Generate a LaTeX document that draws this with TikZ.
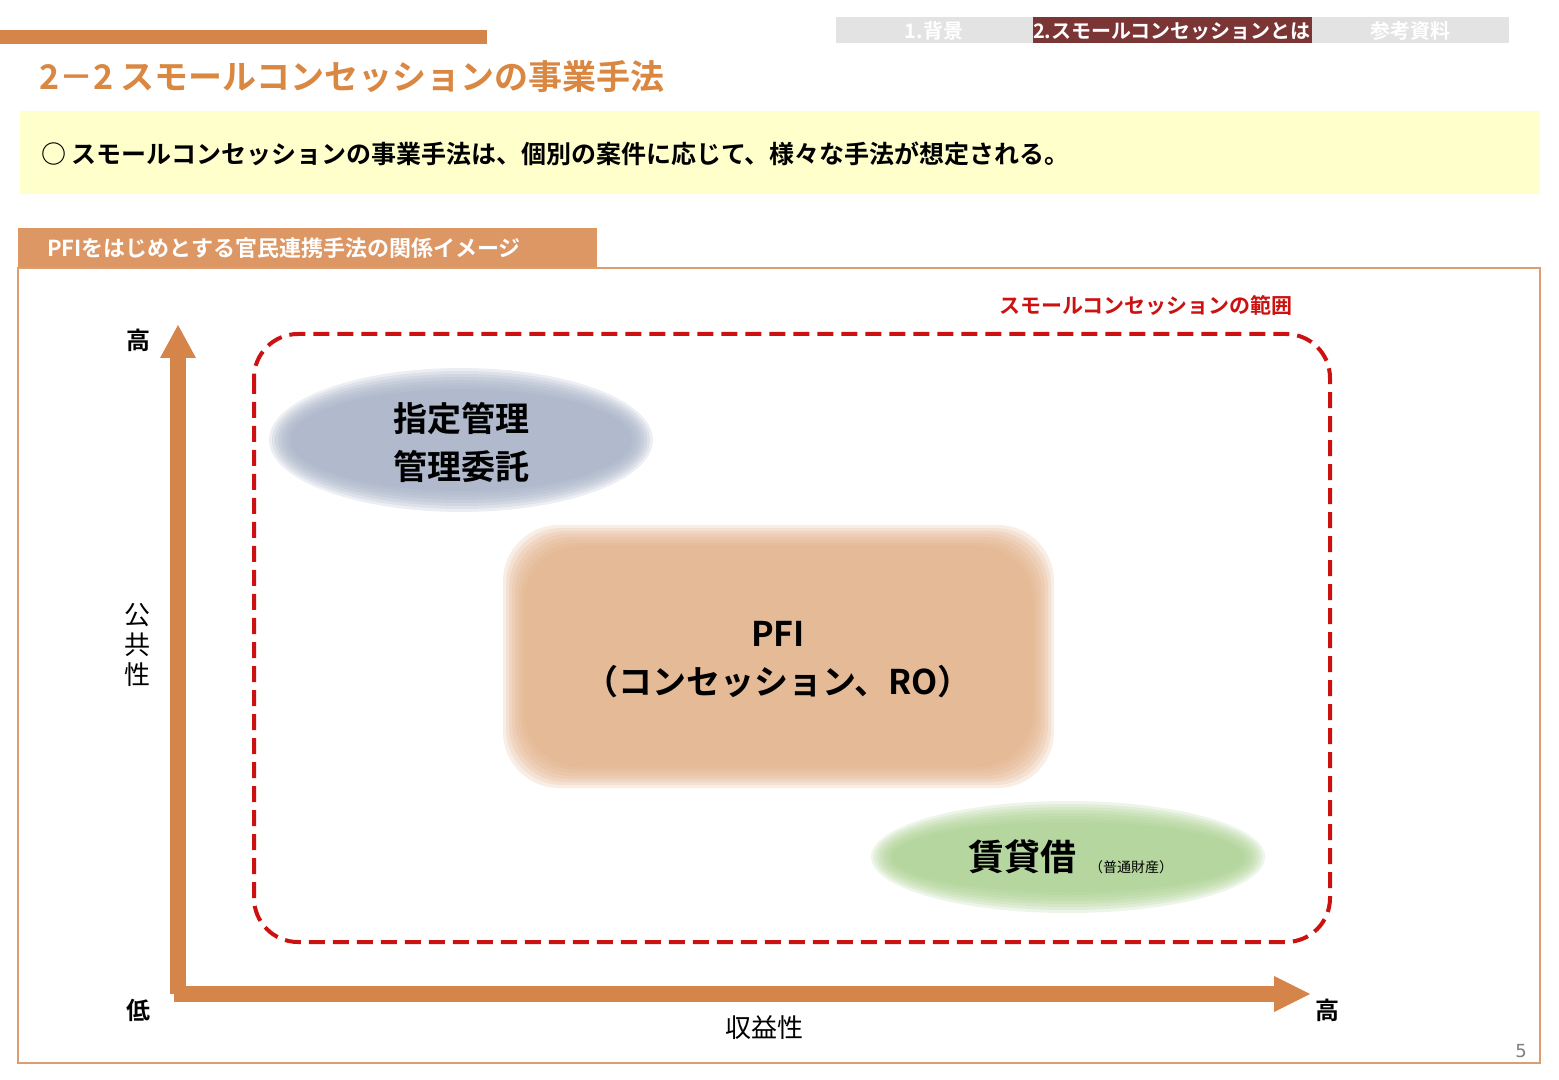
\documentclass[tikz,border=0pt]{standalone}
\usepackage{fontspec}
\setmainfont{Noto Sans CJK JP}
\newfontfamily\jpb{Noto Sans CJK JP Bold}
\newfontfamily\tah{DejaVu Sans}
\definecolor{org}{HTML}{D6854A}
\definecolor{ttl}{HTML}{D98741}
\definecolor{tabred}{HTML}{7B3535}
\definecolor{tabgr}{HTML}{E3E3E3}
\definecolor{ylw}{HTML}{FFFFCC}
\definecolor{dred}{HTML}{CC1111}
\definecolor{blu}{HTML}{A3AEC3}
\definecolor{pfi}{HTML}{E2AE83}
\definecolor{grn}{HTML}{A9D18E}
\begin{document}
\begin{tikzpicture}[x=0.5pt,y=-0.5pt,
  tabtxt/.style={font=\jpb\fontsize{10}{12}\selectfont,text=white},
  axlbl/.style={font=\jpb\fontsize{12}{14}\selectfont}]
\useasboundingbox (0,0) rectangle (1559,1080);
\fill[white] (0,0) rectangle (1559,1080);
% header bar
\fill[org] (0,30) rectangle (487,44);
\node[anchor=west,font=\jpb\fontsize{17}{20}\selectfont,text=ttl] (title) at (32,77) {2－2 スモールコンセッションの事業手法};
% tabs
\fill[tabgr] (836,17) rectangle (1033,43);
\fill[tabred] (1033,17) rectangle (1312,43);
\fill[tabgr] (1312,17) rectangle (1509,43);
\node[tabtxt] (t1) at (934,31) {1.背景};
\node[tabtxt] (t2) at (1172,31) {2.スモールコンセッションとは};
\node[tabtxt] (t3) at (1410,31) {参考資料};
% yellow band
\fill[ylw] (20,111) rectangle (1540,194);
\node[anchor=west,font=\jpb\fontsize{12.5}{15}\selectfont] (lead) at (34,154) {○ スモールコンセッションの事業手法は、個別の案件に応じて、様々な手法が想定される。};
% panel
\fill[org!85] (18,228) rectangle (597,268);
\node[anchor=west,font=\jpb\fontsize{11}{13}\selectfont,text=white] (ptitle) at (40,248) {PFIをはじめとする官民連携手法の関係イメージ};
\draw[org!80,line width=1pt] (18,268) rectangle (1540,1063);
% dashed range
\draw[dred,line width=2pt,dash pattern=on 8pt off 4pt,rounded corners=22pt] (254,334) rectangle (1330,942);
\node[anchor=east,font=\jpb\fontsize{10.5}{12}\selectfont,text=dred] (rng) at (1300,305) {スモールコンセッションの範囲};
% blurred shapes
\foreach \i in {0,...,7}{
  \fill[blu,opacity=0.2] (461,440) ellipse ({192-3*\i} and {72-3*\i});
  \fill[grn,opacity=0.2] (1068,857) ellipse ({197-3*\i} and {56-3*\i});
  \fill[pfi,opacity=0.2,rounded corners=28pt] ({503+3*\i},{525+3*\i}) rectangle ({1054-3*\i},{788-3*\i});
}
\node[align=center,font=\jpb\fontsize{17}{24}\selectfont] (sitei) at (461,442) {指定管理\\管理委託};
\node[align=center,font=\jpb\fontsize{17}{24}\selectfont] (pfinode) at (778,660) {PFI\\（コンセッション、RO）};
\node[font=\jpb\fontsize{18}{20}\selectfont] (chin) at (1022,857) {賃貸借};
\node[anchor=west,font=\fontsize{7}{8}\selectfont] (futsu) at (1082,867) {（普通財産）};
% axes
\coordinate (o) at (178,994);
\coordinate (ytop) at (178,325);
\coordinate (xend) at (1310,994);
\draw[org,line width=8pt] (o) -- (178,358);
\fill[org] (160,358) -- (ytop) -- (196,358) -- cycle;
\draw[org,line width=8pt] (174,994) -- (1274,994);
\fill[org] (1274,976) -- (xend) -- (1274,1012) -- cycle;
\node[axlbl] (yhi) at (138,340) {高};
\node[axlbl] (ylo) at (138,1010) {低};
\node[axlbl] (xhi) at (1327,1010) {高};
\node[align=center,font=\fontsize{13}{15}\selectfont,inner sep=0pt] (ylab) at (137,645) {公\\共\\性};
\node[font=\fontsize{13}{15}\selectfont] (xlab) at (764,1028) {収益性};
\node[font=\tah\fontsize{9}{10}\selectfont,text=gray] (pg) at (1521,1051) {5};
\end{tikzpicture}
\end{document}
